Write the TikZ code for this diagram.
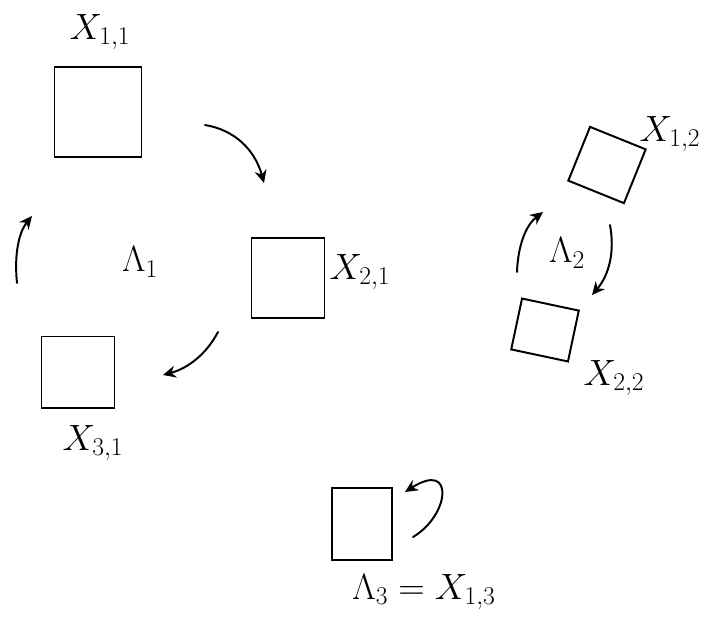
\RequirePackage{fix-cm}
\documentclass[tikz,border=0pt]{standalone}
\usepackage{tikz}
\usetikzlibrary{arrows.meta, positioning}
\tikzset{
	sqnode/.style={
			draw=black,
			line width=1.4pt,
			fill=white,
			inner sep=0pt
		},
	lblnode/.style={
			inner sep=0pt,
			font=\fontsize{26}{30}\selectfont
		},
	bentarrow/.style={
			line width=1.4pt,
			line cap=round,
			-{Stealth[length=3.2mm, width=3mm]}
		}
}

\begin{document}
\begin{tikzpicture}[x=0.025cm, y=-0.025cm]
\useasboundingbox (0,0) rectangle (704,626);
% orbit Lambda_1
\node[sqnode, minimum width=2.175cm, minimum height=2.25cm] (x11) at (98,112) {};
\node[sqnode, minimum width=1.825cm, minimum height=2cm] (x21) at (288,278) {};
\node[sqnode, minimum width=1.825cm, minimum height=1.775cm] (x31) at (78,372) {};
% orbit Lambda_2
\node[sqnode, minimum width=1.5cm, minimum height=1.45cm, rotate=-22] (x12) at (607,165) {};
\node[sqnode, minimum width=1.45cm, minimum height=1.3cm, rotate=-12] (x22) at (545,330) {};
% orbit Lambda_3
\node[sqnode, minimum width=1.5cm, minimum height=1.8cm] (x13) at (362,524) {};

\node[lblnode] (l11) at (100,32) {$X_{1,1}$};
\node[lblnode] (l21) at (360,272) {$X_{2,1}$};
\node[lblnode] (l31) at (93,443) {$X_{3,1}$};
\node[lblnode] (l12) at (670,134) {$X_{1,2}$};
\node[lblnode] (l22) at (614,378) {$X_{2,2}$};
\node[lblnode] (lam1) at (140,262) {$\Lambda_1$};
\node[lblnode] (lam2) at (567,253) {$\Lambda_2$};
\node[lblnode] (lam3) at (424,592) {$\Lambda_3 = X_{1,3}$};

\coordinate (a1s) at (205,125);
\coordinate (a1e) at (264,183);
\coordinate (a2s) at (218,332);
\coordinate (a2e) at (163,375);
\coordinate (a3s) at (17,283);
\coordinate (a3e) at (32,216);
\coordinate (b1s) at (517,272);
\coordinate (b1e) at (543,212);
\coordinate (b2s) at (610,225);
\coordinate (b2e) at (592,295);
\coordinate (c1s) at (413,537);
\coordinate (c1e) at (405,492);

\draw[bentarrow] (a1s) .. controls (235,130) and (255,150) .. (a1e);
\draw[bentarrow] (a2s) .. controls (207,353) and (189,368) .. (a2e);
\draw[bentarrow] (a3s) .. controls (14,254) and (19,232) .. (a3e);
\draw[bentarrow] (b1s) .. controls (518,245) and (526,225) .. (b1e);
\draw[bentarrow] (b2s) .. controls (615,252) and (609,275) .. (b2e);
\draw[bentarrow] (c1s) .. controls (450,515) and (455,460) .. (c1e);
\end{tikzpicture}
\end{document}
